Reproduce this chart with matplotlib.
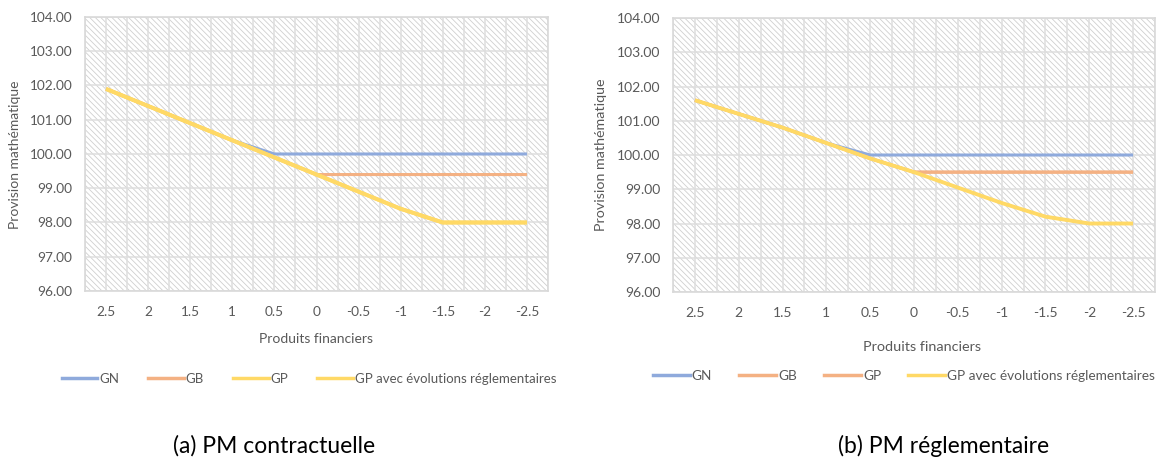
import matplotlib
matplotlib.use("Agg")
import matplotlib.pyplot as plt
from matplotlib.patches import Rectangle
from matplotlib.lines import Line2D

plt.rcParams["font.family"] = ["Lato", "DejaVu Sans"]
plt.rcParams["hatch.linewidth"] = 0.6
plt.rcParams["hatch.color"] = "#cfcfcf"

# categories (produits financiers)
categories = ["2.5", "2", "1.5", "1", "0.5", "0", "-0.5", "-1", "-1.5", "-2", "-2.5"]

# (a) PM contractuelle
a_gn = [101.9, 101.4, 100.9, 100.4, 100.0, 100.0, 100.0, 100.0, 100.0, 100.0, 100.0]
a_gb = [101.9, 101.4, 100.9, 100.4, 99.9, 99.4, 99.4, 99.4, 99.4, 99.4, 99.4]
a_gp = [101.9, 101.4, 100.9, 100.4, 99.9, 99.4, 98.9, 98.4, 98.0, 98.0, 98.0]
a_gp_evol = [101.9, 101.4, 100.9, 100.4, 99.9, 99.4, 98.9, 98.4, 98.0, 98.0, 98.0]

# (b) PM reglementaire
b_gn = [101.6, 101.2, 100.8, 100.35, 100.0, 100.0, 100.0, 100.0, 100.0, 100.0, 100.0]
b_gb = [101.6, 101.2, 100.8, 100.35, 99.9, 99.5, 99.5, 99.5, 99.5, 99.5, 99.5]
b_gp = [101.6, 101.2, 100.8, 100.35, 99.9, 99.5, 99.5, 99.5, 99.5, 99.5, 99.5]
b_gp_evol = [101.6, 101.2, 100.8, 100.35, 99.9, 99.5, 99.05, 98.6, 98.2, 98.0, 98.0]

labels = ["GN", "GB", "GP", "GP avec évolutions réglementaires"]
BLUE, ORANGE, YELLOW = "#8faadc", "#f4b183", "#ffd966"
TXT = "#595959"
GRID = "#dedede"


def draw_panel(ax, series, colors, widths, fs):
    x = list(range(len(categories)))
    # hatched plot area, like the Excel pattern fill
    ax.add_patch(Rectangle((0, 0), 1, 1, transform=ax.transAxes, facecolor="white",
                           edgecolor="#cfcfcf", hatch="\\\\\\\\\\\\", linewidth=0, zorder=0))
    for v in [i * 0.5 - 0.5 for i in range(23)]:
        ax.axvline(v, color=GRID, lw=1.1, zorder=1)
    for v in range(96, 105):
        ax.axhline(v, color=GRID, lw=1.1, zorder=1)
    for vals, c, w in zip(series, colors, widths):
        ax.plot(x, vals, color=c, lw=w, solid_capstyle="butt", zorder=3)
    ax.set_xlim(-0.5, len(categories) - 0.5)
    ax.set_ylim(96, 104)
    ax.set_xticks(x)
    ax.set_xticklabels(categories)
    ax.set_yticks(range(96, 105))
    ax.set_yticklabels([f"{v:.2f}" for v in range(96, 105)])
    ax.tick_params(axis="both", length=0, labelsize=fs, colors=TXT)
    ax.tick_params(axis="y", pad=9)
    ax.tick_params(axis="x", pad=11)
    for s in ax.spines.values():
        s.set_color("#d9d9d9")
        s.set_linewidth(1.2)
    ax.set_axisbelow(True)


fig = plt.figure(figsize=(11.63, 4.63), dpi=100)

ax1 = fig.add_axes([0.0731, 0.3715, 0.3981, 0.5918])
draw_panel(ax1, [a_gn, a_gb, a_gp, a_gp_evol], [BLUE, ORANGE, YELLOW, YELLOW], [2.2, 2.2, 2.8, 2.8], 9.8)
ax2 = fig.add_axes([0.5787, 0.3693, 0.4144, 0.5918])
draw_panel(ax2, [b_gn, b_gb, b_gp, b_gp_evol], [BLUE, ORANGE, ORANGE, YELLOW], [2.2, 2.2, 2.2, 2.8], 10)

fig.text(15 / 1163, 1 - 155 / 463, "Provision mathématique", rotation=90, ha="center", va="center",
         fontsize=10, color=TXT)
fig.text(601 / 1163, 1 - 155 / 463, "Provision mathématique", rotation=90, ha="center", va="center",
         fontsize=10.3, color=TXT)
fig.text(316 / 1163, 1 - 339 / 463, "Produits financiers", ha="center", va="center", fontsize=10, color=TXT)
fig.text(922 / 1163, 1 - 347 / 463, "Produits financiers", ha="center", va="center", fontsize=10.4, color=TXT)


def legend(colors, xc, yc, fs, cs):
    handles = [Line2D([], [], color=c, lw=2.5) for c in colors]
    leg = fig.legend(handles, labels, loc="center", bbox_to_anchor=(xc / 1163, 1 - yc / 463), ncol=4,
                     frameon=False, fontsize=fs, handlelength=2.7, handletextpad=0.15, columnspacing=cs,
                     labelcolor=TXT)
    return leg


legend([BLUE, ORANGE, YELLOW, YELLOW], 309, 379, 9.5, 2.2)
legend([BLUE, ORANGE, ORANGE, YELLOW], 904, 376, 9.8, 2.0)

fig.text(274 / 1163, 1 - 446 / 463, "(a) PM contractuelle", ha="center", va="center", fontsize=16.5, color="black")
fig.text(944 / 1163, 1 - 446 / 463, "(b) PM réglementaire", ha="center", va="center", fontsize=16.5, color="black")

fig.savefig("out.png", dpi=100)
